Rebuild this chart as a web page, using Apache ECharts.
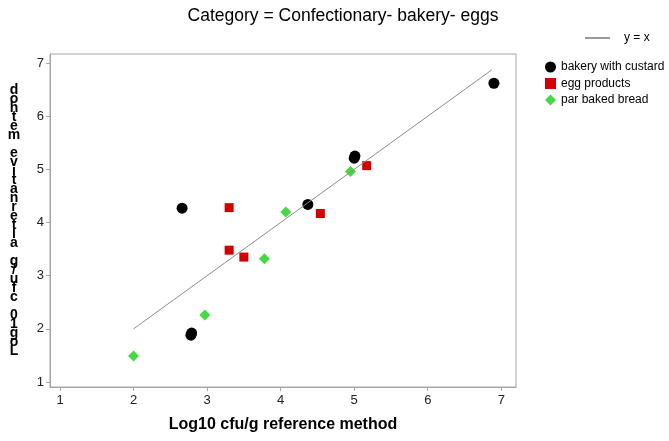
<!doctype html>
<html>
	<head>
		<meta charset="UTF-8">
		<title>Confectionary- bakery- eggs</title>
		<style type="text/css">
			html,body{margin:0;padding:0;background:#fff;}
			#main{width:669px;height:441px;}
		</style>
	</head>
	<body>
		<div id="main"></div>
		<script src="https://cdn.jsdelivr.net/npm/echarts@6/dist/echarts.min.js"></script>
		<script type="text/javascript">
			// 数据：x = 参考方法, y = 替代方法 (log10 cfu/g)
			var bakeryX = [2.66, 2.78, 2.79, 4.37, 5.00, 5.01, 6.90];
			var bakeryY = [4.27, 1.88, 1.92, 4.34, 5.21, 5.25, 6.62];
			var eggX = [3.30, 3.30, 3.50, 4.54, 5.17];
			var eggY = [4.28, 3.48, 3.35, 4.17, 5.07];
			var breadX = [2.00, 2.97, 3.78, 4.07, 4.95];
			var breadY = [1.49, 2.26, 3.32, 4.20, 4.96];
			var lineEnds = [2.0, 6.87]; // y = x
			var tickValues = [1, 2, 3, 4, 5, 6, 7];

			function pairs(xs, ys){
				var out = [];
				for(var i = 0; i < xs.length; i++){
					out.push([xs[i], ys[i]]);
				}
				return out;
			}

			var font = "'Liberation Sans', Arial, sans-serif";
			var yName = 'Log10 cfu/g alternative method'.split('').reverse().join('\n');

			var myChart = echarts.init(document.getElementById('main'));
			var option = {
				animation: false,
				textStyle: {fontFamily: font},
				title: {
					text: 'Category = Confectionary- bakery- eggs',
					left: 338,
					textAlign: 'center',
					top: 2,
					textStyle: {fontSize: 17.5, fontWeight: 'normal', color: '#000', fontFamily: font}
				},
				legend: [
					{
						data: [{name: 'y = x', icon: 'rect'}],
						left: 580,
						top: 27,
						itemWidth: 25,
						itemHeight: 1,
						itemStyle: {color: '#333'},
						textStyle: {fontSize: 12, color: '#000', fontFamily: font, padding: [0, 0, 0, 9]}
					},
					{
						data: ['bakery with custard', 'egg products', 'par baked bread'],
						orient: 'vertical',
						left: 540,
						top: 56,
						itemWidth: 11,
						itemHeight: 11,
						itemGap: 4.5,
						textStyle: {fontSize: 12, color: '#000', fontFamily: font}
					}
				],
				grid: {
					left: 50,
					right: 153,
					top: 54,
					bottom: 54,
					show: true,
					borderColor: '#a6a6a6',
					borderWidth: 1
				},
				xAxis: {
					type: 'value',
					min: 0.864,
					max: 7.2,
					name: 'Log10 cfu/g reference method',
					nameLocation: 'middle',
					nameGap: 30,
					nameTextStyle: {fontSize: 16, fontWeight: 'bold', color: '#000', fontFamily: font},
					splitLine: {show: false},
					axisLine: {lineStyle: {color: '#a6a6a6'}},
					axisTick: {length: 4, lineStyle: {color: '#a6a6a6'}, customValues: tickValues},
					axisLabel: {fontSize: 13, color: '#222', margin: 7, customValues: tickValues, fontFamily: font}
				},
				yAxis: {
					type: 'value',
					min: 0.906,
					max: 7.17,
					name: yName,
					nameLocation: 'middle',
					nameRotate: 0,
					nameGap: 36,
					nameTextStyle: {fontSize: 14, fontWeight: 'bold', color: '#000', lineHeight: 9, fontFamily: font, align: 'center'},
					splitLine: {show: false},
					axisLine: {lineStyle: {color: '#a6a6a6'}},
					axisTick: {length: 4, lineStyle: {color: '#a6a6a6'}, customValues: tickValues},
					axisLabel: {fontSize: 13, color: '#222', margin: 6, customValues: tickValues, fontFamily: font}
				},
				series: [
					{
						name: 'y = x',
						type: 'line',
						symbol: 'none',
						data: [[lineEnds[0], lineEnds[0]], [lineEnds[1], lineEnds[1]]],
						lineStyle: {color: '#8c8c8c', width: 1},
						itemStyle: {color: '#8c8c8c'}
					},
					{
						name: 'bakery with custard',
						type: 'scatter',
						symbol: 'circle',
						symbolSize: 11,
						data: pairs(bakeryX, bakeryY),
						itemStyle: {color: '#000', opacity: 1}
					},
					{
						name: 'egg products',
						type: 'scatter',
						symbol: 'rect',
						symbolSize: 9,
						data: pairs(eggX, eggY),
						itemStyle: {color: '#d20000', opacity: 1}
					},
					{
						name: 'par baked bread',
						type: 'scatter',
						symbol: 'diamond',
						symbolSize: 11,
						data: pairs(breadX, breadY),
						itemStyle: {color: '#45d945', opacity: 1}
					}
				]
			};
			myChart.setOption(option);
		</script>
	</body>
</html>
